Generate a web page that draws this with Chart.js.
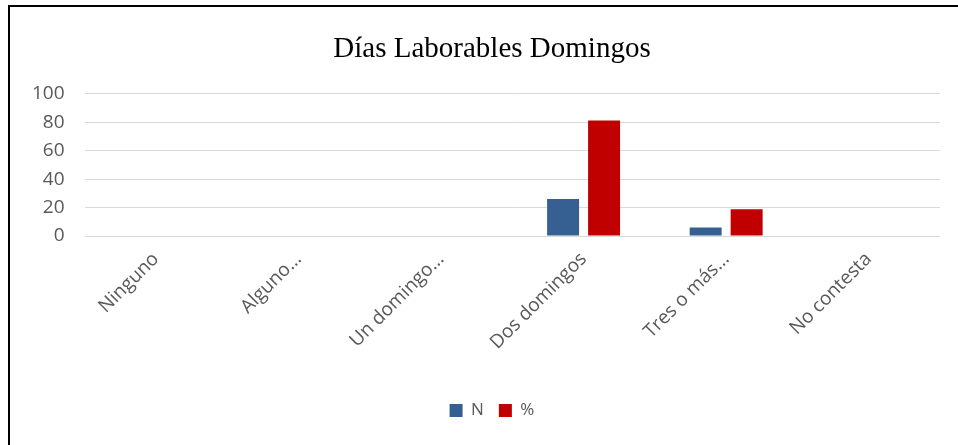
<!DOCTYPE html>
<html>
<head>
<meta charset="utf-8">
<script src="https://cdn.jsdelivr.net/npm/chart.js@4.4.1/dist/chart.umd.min.js"></script>
<style>
    html, body { margin: 0; padding: 0; background: #fff; }
    body { width: 958px; height: 445px; overflow: hidden; position: relative; }
    #frame {
        position: absolute; left: 8px; top: 5px; width: 964px; height: 440px;
        border-top: 2px solid #000; border-left: 2px solid #000;
    }
    #wrap { position: absolute; left: 0; top: 0; width: 962px; height: 438px; }
</style>
</head>
<body>
<div id="frame"><div id="wrap"><canvas id="chart"></canvas></div></div>
<script>
// Chart data
const categories = ['Ninguno', 'Alguno...', 'Un domingo...', 'Dos domingos', 'Tres o más...', 'No contesta'];
const nValues = [0, 0, 0, 26, 6, 0];
const pctValues = [0, 0, 0, 81.25, 18.75, 0];
const yTicks = [0, 20, 40, 60, 80, 100];

const ctx = document.getElementById('chart').getContext('2d');

const chart = new Chart(ctx, {
    type: 'bar',
    data: {
        labels: categories,
        datasets: [
            {
                label: 'N',
                data: nValues,
                backgroundColor: '#376092',
                categoryPercentage: 0.575,
                barPercentage: 0.78
            },
            {
                label: '%',
                data: pctValues,
                backgroundColor: '#C00000',
                categoryPercentage: 0.575,
                barPercentage: 0.78
            }
        ]
    },
    options: {
        responsive: true,
        maintainAspectRatio: false,
        animation: false,
        layout: {
            padding: { left: 2, right: 0, top: 0, bottom: 16 }
        },
        plugins: {
            title: {
                display: true,
                text: 'Días Laborables Domingos',
                color: '#000',
                font: { family: '"Liberation Serif", "Times New Roman", serif', size: 29, weight: 'normal' },
                padding: { top: 25, bottom: 27 }
            },
            legend: {
                position: 'bottom',
                labels: {
                    color: '#595959',
                    font: { family: '"Open Sans", sans-serif', size: 17 },
                    boxWidth: 13,
                    boxHeight: 13,
                    padding: 15
                }
            },
            tooltip: { enabled: false }
        },
        scales: {
            x: {
                grid: { display: false, drawTicks: false },
                border: { display: false },
                afterFit: axis => { axis.height += 21; },
                ticks: {
                    color: '#595959',
                    font: { family: '"Open Sans", sans-serif', size: 19 },
                    maxRotation: 45,
                    minRotation: 45,
                    padding: 12,
                    autoSkip: false
                }
            },
            y: {
                min: 0,
                max: 100,
                afterBuildTicks: axis => {
                    axis.ticks = yTicks.map(v => ({ value: v }));
                },
                grid: { color: '#d9d9d9', lineWidth: 1, drawTicks: false },
                border: { display: false },
                ticks: {
                    color: '#595959',
                    font: { family: '"Open Sans", sans-serif', size: 19 },
                    padding: 20
                }
            },
            // empty right margin inside the chart space
            spacer: {
                position: 'right',
                grid: { display: false, drawTicks: false },
                border: { display: false },
                ticks: { display: false },
                afterFit: axis => { axis.width = 32; }
            }
        }
    }
});
</script>
</body>
</html>
